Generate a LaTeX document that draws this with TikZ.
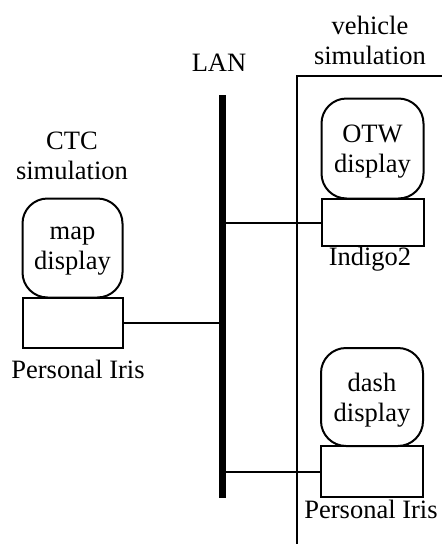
\documentclass[tikz,border=0pt]{standalone}
\usepackage{fontspec}
\setmainfont{Liberation Serif}
\begin{document}
\begin{tikzpicture}[x=1pt,y=-1pt,
  every node/.style={font=\fontsize{26.5}{32}\selectfont, inner sep=0pt, align=center},
  wire/.style={line width=2pt},
  screen/.style={draw, line width=2pt, rounded corners=25pt, minimum width=100pt, minimum height=99pt, text depth=0pt},
  cpu/.style={draw, line width=2pt, minimum width=100pt, minimum height=50pt}]
\useasboundingbox (0,0) rectangle (442,544);

% network backbone
\coordinate (lantop) at (222,95);
\coordinate (lanbot) at (222,498);
\draw[line width=7pt] (lantop) -- (lanbot);
\node (lanlbl) at (219,63) {LAN};

% boundary of the vehicle simulation
\coordinate (frbot) at (297,544);
\coordinate (frcorner) at (297,76);
\coordinate (frright) at (442,76);
\draw[wire] (frbot) -- (frcorner) -- (frright);
\node (vehlbl) at (370,40) {vehicle\\[-2pt]simulation};

% CTC workstation
\node (ctclbl) at (72,156) {CTC\\[-2pt]simulation};
\node[screen] (map) at (72.5,248) {map\\[-2pt]display};
\node[cpu] (pcA) at (72.5,322.5) {};
\node (pcAlbl) at (78,369) {Personal Iris};

% out-the-window workstation
\node[screen, minimum width=102pt, minimum height=100pt] (otw) at (372.5,148.5) {OTW\\[-2pt]display};
\node[cpu, minimum width=102pt, minimum height=47pt] (indigo) at (372.5,222.5) {};
\node (indigolbl) at (370,259) {Indigo2};

% dashboard workstation
\node[screen, minimum width=102pt, minimum height=98pt] (dash) at (372,397) {dash\\[-2pt]display};
\node[cpu, minimum width=102pt, minimum height=51pt] (pcB) at (372,471.5) {};
\node (pcBlbl) at (371,509) {Personal Iris};

% LAN connections
\draw[wire] (pcA.east) -- (pcA.east -| lantop);
\draw[wire] (indigo.west) -- (indigo.west -| lantop);
\draw[wire] (pcB.west) -- (pcB.west -| lantop);
\end{tikzpicture}
\end{document}
